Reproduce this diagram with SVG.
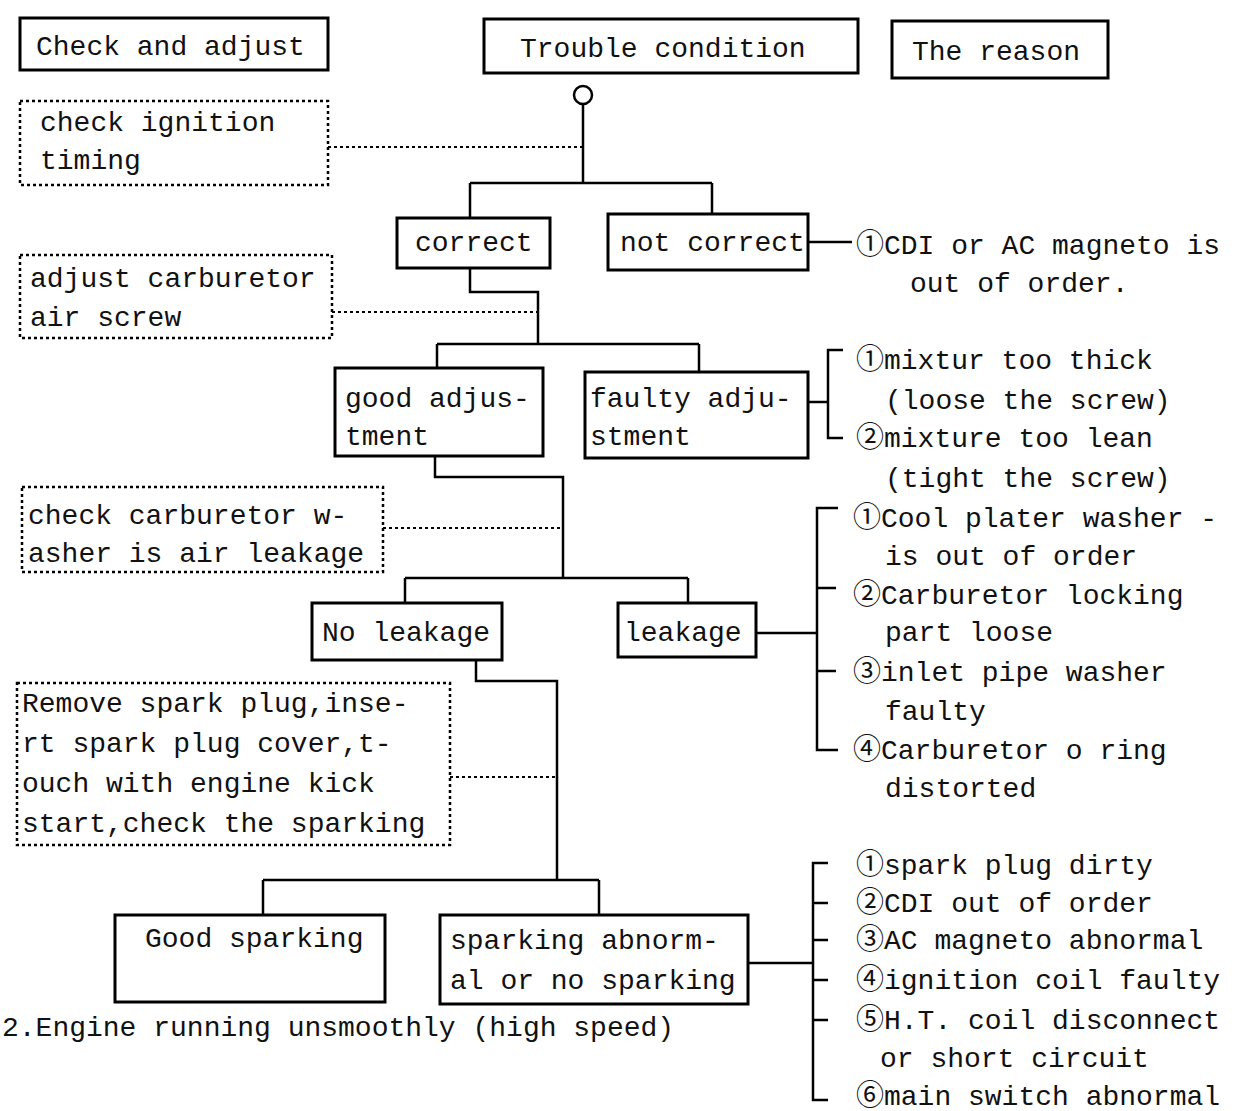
<svg xmlns="http://www.w3.org/2000/svg" width="1244" height="1111" viewBox="0 0 1244 1111">
<style>
text{font-family:"Liberation Mono","DejaVu Sans Mono","Noto Sans CJK JP",monospace;font-size:28px;fill:#111}
.box{fill:#fff;stroke:#000;stroke-width:3}
.dbox{fill:#fff;stroke:#000;stroke-width:2.5;stroke-dasharray:3 3}
.ln{fill:none;stroke:#000;stroke-width:2.5}
.dl{fill:none;stroke:#000;stroke-width:2;stroke-dasharray:3 3}
</style>
<rect width="1244" height="1111" fill="#fff"/>
<g id="connectors">
<circle cx="583" cy="95" r="9" fill="#fff" stroke="#000" stroke-width="2.5"/>
<path class="ln" d="M583 104V183M470 183H712M470 183V218M712 183V214"/>
<path class="dl" d="M328 147H583"/>
<path class="ln" d="M808 242H852"/>
<path class="ln" d="M470 268V292H538V344M437 344H699M437 344V368M699 344V372"/>
<path class="dl" d="M332 312H538"/>
<path class="ln" d="M808 402H828M843 350H828V438H843"/>
<path class="ln" d="M435 456V477H563V578M405 578H688M405 578V603M688 578V603"/>
<path class="dl" d="M383 528H563"/>
<path class="ln" d="M756 633H817M838 508H817V750H838M817 588H836M817 671H836"/>
<path class="ln" d="M476 660V681H557V880M263 880H599M263 880V915M599 880V915"/>
<path class="dl" d="M450 777H557"/>
<path class="ln" d="M748 963H813M828 863H813V1100H828M813 903H828M813 940H828M813 980H828M813 1020H828"/>
</g>
<g id="hdr-check"><rect class="box" x="20" y="18" width="308" height="52"/><text x="36" y="55">Check and adjust</text></g>
<g id="hdr-trouble"><rect class="box" x="484" y="19" width="374" height="54"/><text x="520" y="57">Trouble condition</text></g>
<g id="hdr-reason"><rect class="box" x="892" y="21" width="216" height="57"/><text x="912" y="60">The reason</text></g>
<g id="chk-ignition"><rect class="dbox" x="20" y="101" width="308" height="84"/><text x="40" y="131">check ignition</text><text x="40" y="169">timing</text></g>
<g id="correct"><rect class="box" x="397" y="218" width="153" height="50"/><text x="415" y="251">correct</text></g>
<g id="not-correct"><rect class="box" x="608" y="214" width="200" height="56"/><text x="620" y="251">not correct</text></g>
<g id="reason-cdi"><text x="856" y="254">①CDI or AC magneto is</text><text x="910" y="292">out of order.</text></g>
<g id="adj-carb"><rect class="dbox" x="20" y="255" width="312" height="83"/><text x="30" y="287">adjust carburetor</text><text x="30" y="326">air screw</text></g>
<g id="good-adj"><rect class="box" x="335" y="368" width="208" height="88"/><text x="345" y="407">good adjus-</text><text x="345" y="445">tment</text></g>
<g id="faulty-adj"><rect class="box" x="585" y="372" width="223" height="86"/><text x="590" y="407">faulty adju-</text><text x="590" y="445">stment</text></g>
<g id="reason-mix"><text x="856" y="369">①mixtur too thick</text><text x="885" y="409">(loose the screw)</text><text x="856" y="447">②mixture too lean</text><text x="885" y="487">(tight the screw)</text></g>
<g id="chk-washer"><rect class="dbox" x="22" y="487" width="361" height="85"/><text x="28" y="524">check carburetor w-</text><text x="28" y="562">asher is air leakage</text></g>
<g id="no-leak"><rect class="box" x="312" y="603" width="190" height="57"/><text x="322" y="641">No leakage</text></g>
<g id="leak"><rect class="box" x="618" y="603" width="138" height="54"/><text x="624" y="641">leakage</text></g>
<g id="reason-leak"><text x="853" y="527">①Cool plater washer -</text><text x="885" y="565">is out of order</text><text x="853" y="604">②Carburetor locking</text><text x="885" y="641">part loose</text><text x="853" y="681">③inlet pipe washer</text><text x="885" y="720">faulty</text><text x="853" y="759">④Carburetor o ring</text><text x="885" y="797">distorted</text></g>
<g id="chk-spark"><rect class="dbox" x="17" y="683" width="433" height="162"/><text x="22" y="712">Remove spark plug,inse-</text><text x="22" y="752">rt spark plug cover,t-</text><text x="22" y="792">ouch with engine kick</text><text x="22" y="832">start,check the sparking</text></g>
<g id="good-spark"><rect class="box" x="115" y="915" width="270" height="87"/><text x="145" y="947">Good sparking</text></g>
<g id="bad-spark"><rect class="box" x="440" y="915" width="308" height="89"/><text x="450" y="949">sparking abnorm-</text><text x="450" y="989">al or no sparking</text></g>
<g id="reason-spark"><text x="856" y="874">①spark plug dirty</text><text x="856" y="912">②CDI out of order</text><text x="856" y="949">③AC magneto abnormal</text><text x="856" y="989">④ignition coil faulty</text><text x="856" y="1029">⑤H.T. coil disconnect</text><text x="880" y="1067">or short circuit</text><text x="856" y="1105">⑥main switch abnormal</text></g>
<g id="caption"><text x="2" y="1036">2.Engine running unsmoothly (high speed)</text></g>
</svg>
